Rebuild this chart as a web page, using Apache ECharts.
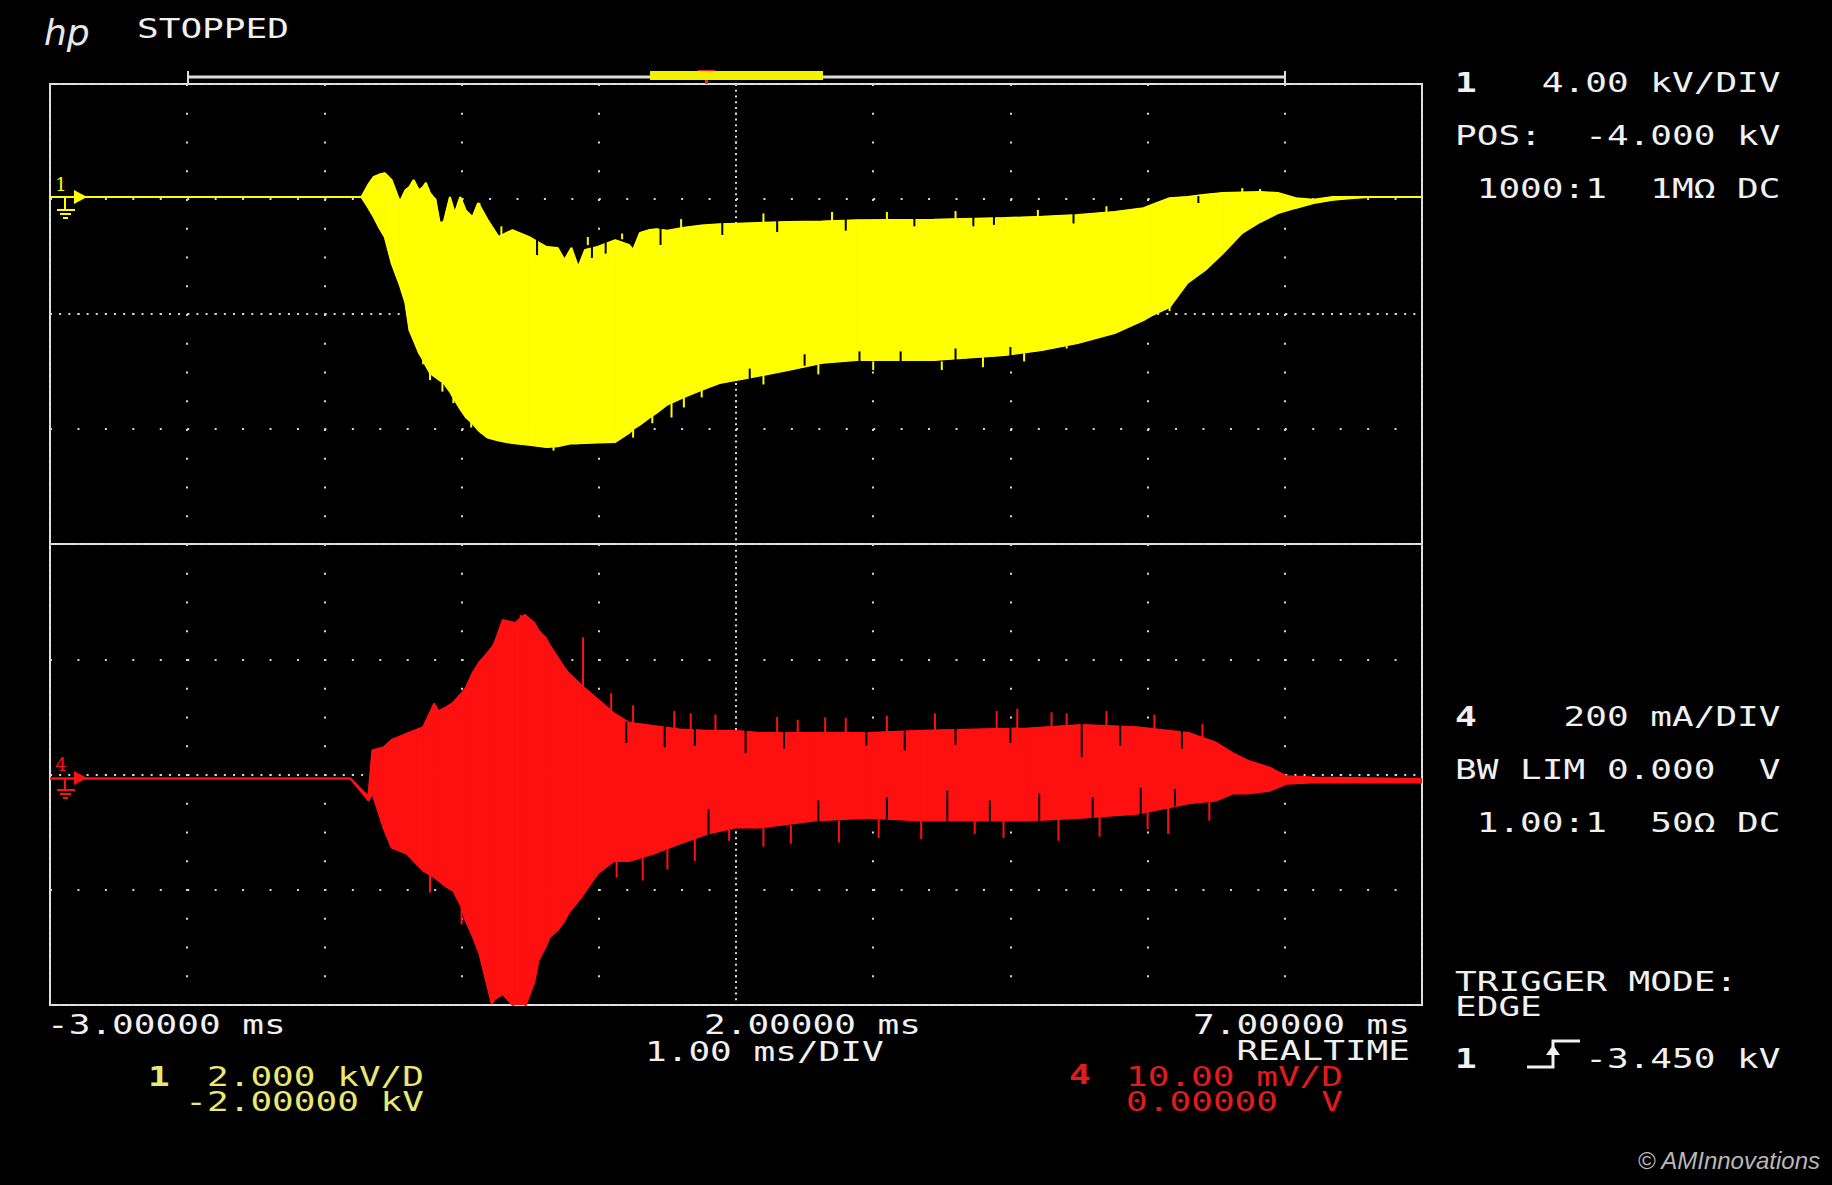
<!DOCTYPE html>
<html><head><meta charset="utf-8">
<script src="https://cdn.jsdelivr.net/npm/echarts@6/dist/echarts.min.js"></script>
<style>html,body{margin:0;padding:0;background:#000;}#c{width:1832px;height:1185px;}</style>
</head><body><div id="c"></div>
<script>
// ---- axes (ms, kV, mA) ----
const timeRange = [-3, 7];      // 1.00 ms/DIV
const ch1Range = [-12, 4];      // 4.00 kV/DIV, POS -4.000 kV
const ch4Range = [-400, 400];   // 200 mA/DIV

// ---- channel 1 (yellow, kV): envelope of the oscillation ----
const ch1Time = [-3.00,-0.78,-0.73,-0.68,-0.64,-0.60,-0.56,-0.51,-0.45,-0.41,-0.38,-0.35,-0.31,-0.28,-0.26,-0.23,-0.19,-0.16,-0.13,-0.085,-0.05,-0.01,0.03,0.08,0.12,0.19,0.27,0.37,0.49,0.62,0.70,0.75,0.80,0.85,0.90,0.99,1.12,1.22,1.25,1.30,1.37,1.42,1.50,1.62,1.75,1.88,2.00,2.12,2.38,2.63,2.88,3.44,3.96,4.23,4.49,4.76,4.97,5.03,5.16,5.29,5.42,5.55,5.69,5.82,5.95,6.08,6.21,6.35,6.48,6.61,7.00];
const ch1Hi = [0.07,0.07,0.07,0.50,0.77,0.85,0.90,0.66,-0.10,0.30,0.42,0.66,0.30,0.42,0.56,0.20,-0.03,-0.83,-0.80,0.07,-0.50,0.07,-0.40,-0.63,-0.14,-0.73,-1.32,-1.08,-1.32,-1.67,-1.70,-2.12,-1.70,-2.37,-1.77,-1.67,-1.43,-1.60,-1.77,-1.18,-1.08,-1.05,-1.10,-1.00,-0.92,-0.88,-0.86,-0.84,-0.80,-0.78,-0.74,-0.72,-0.66,-0.62,-0.56,-0.45,-0.32,-0.21,0.03,0.07,0.15,0.21,0.23,0.24,0.21,0.03,-0.03,0.07,0.07,0.07,0.07];
const ch1Lo = [0.07,0.07,0.07,-0.30,-0.63,-1.00,-1.32,-2.23,-3.00,-3.60,-4.56,-4.90,-5.36,-5.60,-5.80,-6.05,-6.20,-6.30,-6.40,-6.70,-6.99,-7.30,-7.58,-7.80,-8.03,-8.30,-8.40,-8.49,-8.55,-8.63,-8.60,-8.55,-8.50,-8.50,-8.49,-8.47,-8.45,-8.14,-8.00,-7.85,-7.60,-7.44,-7.15,-6.89,-6.64,-6.40,-6.30,-6.19,-5.95,-5.70,-5.60,-5.60,-5.43,-5.25,-5.01,-4.66,-4.21,-4.05,-3.76,-2.92,-2.47,-1.88,-1.18,-0.80,-0.49,-0.31,-0.14,-0.03,0.03,0.07,0.07];
// single spikes beyond the envelope [t, from, to] and dark gaps cutting into it
const ch1Spikes = [[-0.28,-5.5,-5.75],[-0.23,-5.9,-6.3],[-0.14,-6.4,-6.7],[-0.06,-6.85,-7.1],[0.07,-7.7,-7.95],[0.14,-8.0,-8.15],[0.67,-8.5,-8.75],[1.25,-7.9,-8.3],[1.39,-7.5,-7.8],[1.53,-7.1,-7.6],[1.62,-6.8,-7.25],[1.75,-6.6,-6.9],[4.41,-5.0,-5.2],[4.86,-4.2,-4.45],[5.16,-3.6,-3.9],[0.13,-0.5,-0.14],[0.29,-1.3,-0.95],[0.92,-1.6,-1.32],[1.17,-1.4,-1.2],[5.69,0.2,0.38],[5.82,0.2,0.35],
  [1.60,-1.1,-0.7],[2.20,-0.9,-0.5],[2.70,-0.85,-0.45],[3.10,-0.8,-0.45],[3.60,-0.75,-0.42],[4.20,-0.7,-0.38],[4.70,-0.55,-0.25],
  [2.20,-6.1,-6.45],[2.60,-5.75,-6.1],[3.00,-5.65,-5.95],[3.50,-5.65,-5.95],[3.80,-5.5,-5.85],[4.10,-5.35,-5.65]];
const ch1Gaps = [[0.55,-1.3,-1.95],[0.95,-1.5,-2.05],[1.05,-1.5,-1.9],[3.30,-0.6,-0.95],[3.73,-0.6,-0.95],[3.88,-0.6,-0.9],[4.46,-0.5,-0.85],[5.37,0.1,-0.14],[2.50,-5.8,-5.4],[3.20,-5.7,-5.3],[4.00,-5.5,-5.15],
  [1.45,-1.0,-1.6],[1.90,-0.8,-1.25],[2.30,-0.75,-1.15],[2.80,-0.7,-1.1],[2.10,-6.3,-5.9],[2.90,-5.7,-5.3],[3.60,-5.6,-5.2]];

// ---- channel 4 (red, mA): envelope of the oscillation ----
const ch4Time = [-3.00,-0.81,-0.68,-0.65,-0.57,-0.51,-0.40,-0.28,-0.20,-0.17,-0.11,-0.06,0.00,0.03,0.08,0.13,0.16,0.22,0.24,0.30,0.39,0.46,0.53,0.56,0.61,0.64,0.70,0.75,0.78,0.89,0.97,1.00,1.11,1.22,1.40,1.59,1.79,1.99,2.18,2.57,2.96,3.35,3.74,4.13,4.52,4.92,5.30,5.50,5.62,5.73,5.89,6.01,6.20,7.00];
const ch4Hi = [-7,-7,-38,42,47,60,71,82,123,110,117,125,141,150,176,195,203,220,228,268,263,277,263,250,238,225,203,185,176,151,135,129,106,90,84,78,76,76,72,72,72,76,78,80,86,82,72,55,37,24,12,-3,-5,-8];
const ch4Lo = [-7,-7,-45,-33,-92,-127,-137,-167,-178,-184,-195,-202,-230,-254,-280,-311,-340,-398,-390,-381,-405,-405,-360,-323,-300,-283,-270,-254,-240,-207,-179,-170,-150,-150,-137,-120,-103,-92,-92,-80,-75,-80,-80,-80,-75,-68,-50,-45,-33,-33,-28,-16,-14,-14];
const ch4Spikes = [[1.09,110,141],[1.67,78,106],[2.65,72,99],[4.41,85,106],[-0.23,-175,-205],[0.00,-230,-260],[1.13,-150,-179],[1.32,-140,-184],[1.95,-92,-115],[3.04,-75,-110],[3.74,-80,-103],[5.15,-55,-103],[0.885,151,238],[0.43,270,277],
  [1.25,88,120],[1.55,78,110],[1.85,76,104],[2.30,72,100],[2.45,72,95],[2.80,72,98],[3.10,72,102],[3.45,76,106],[3.90,78,110],[4.05,80,114],[4.30,82,108],[4.70,84,110],[5.05,80,104],[5.40,62,88],
  [1.50,-130,-165],[1.70,-112,-150],[2.20,-92,-125],[2.40,-88,-120],[2.75,-80,-118],[3.35,-80,-112],[3.95,-80,-110],[4.35,-78,-115],[4.65,-72,-108],[5.00,-62,-95],[5.45,-47,-80]];
const ch4Gaps = [[1.48,88,47],[2.07,78,37],[3.23,76,42],[4.52,88,30],[3.54,-83,-28],[4.21,-83,-33],[4.95,-71,-23],
  [1.20,92,55],[1.70,80,50],[2.35,74,45],[2.95,74,50],[3.60,80,52],[4.00,82,55],[4.80,85,50],[5.25,76,45],
  [1.80,-106,-60],[2.60,-83,-45],[3.10,-78,-40],[3.85,-83,-45],[4.60,-78,-40],[5.20,-55,-25]];

const YEL = '#ffff00', RED = '#ff1010', WHITE = '#f0f0f0', GRID = '#d6d6d6';
const YTXT = '#e8e872', RTXT = '#e01c1c';

function segRows(t, lo, hi) {
  const rows = [];
  for (let i = 1; i < t.length; i++) rows.push([t[i - 1], lo[i - 1], hi[i - 1], t[i], lo[i], hi[i]]);
  return rows;
}
function bandSeries(t, lo, hi, spikes, gaps, gi, color) {
  const common = { xAxisIndex: gi, yAxisIndex: gi, silent: true, animation: false };
  return [
    Object.assign({}, common, {
      type: 'custom', z: 5, clip: true, data: segRows(t, lo, hi),
      encode: { x: [0, 3], y: [1, 2, 4, 5] },
      renderItem: function (params, api) {
        const a = api.coord([api.value(0), api.value(1)]);
        const b = api.coord([api.value(0), api.value(2)]);
        const c = api.coord([api.value(3), api.value(5)]);
        const d = api.coord([api.value(3), api.value(4)]);
        return { type: 'polygon', shape: { points: [a, b, c, d] }, style: { fill: color, stroke: color, lineWidth: 1 } };
      }
    }),
    Object.assign({}, common, { type: 'line', z: 6, symbol: 'none', data: t.map((x, i) => [x, lo[i]]), lineStyle: { color: color, width: 2 } }),
    Object.assign({}, common, { type: 'line', z: 6, symbol: 'none', data: t.map((x, i) => [x, hi[i]]), lineStyle: { color: color, width: 2 } }),
    Object.assign({}, common, {
      type: 'custom', z: 7, clip: true, data: spikes, encode: { x: 0, y: [1, 2] },
      renderItem: function (params, api) {
        const p = api.coord([api.value(0), api.value(1)]), q = api.coord([api.value(0), api.value(2)]);
        return { type: 'line', shape: { x1: p[0], y1: p[1], x2: q[0], y2: q[1] }, style: { stroke: color, lineWidth: 2 } };
      }
    }),
    Object.assign({}, common, {
      type: 'custom', z: 8, clip: true, data: gaps, encode: { x: 0, y: [1, 2] },
      renderItem: function (params, api) {
        const p = api.coord([api.value(0), api.value(1)]), q = api.coord([api.value(0), api.value(2)]);
        return { type: 'line', shape: { x1: p[0], y1: p[1], x2: q[0], y2: q[1] }, style: { stroke: '#000', lineWidth: 2 } };
      }
    })
  ];
}

function xAx(gi, interval, dash) {
  return { type: 'value', gridIndex: gi, min: timeRange[0], max: timeRange[1], interval: interval,
    position: interval === 1 ? 'bottom' : 'top',
    axisLine: { show: false }, axisTick: { show: false }, axisLabel: { show: false },
    splitLine: { show: true, lineStyle: { color: GRID, width: 2, type: dash } } };
}
function yAx(gi, range, interval, dash, pos) {
  return { type: 'value', gridIndex: gi, min: range[0], max: range[1], interval: interval, position: pos,
    axisLine: { show: false }, axisTick: { show: false }, axisLabel: { show: false },
    splitLine: { show: true, lineStyle: { color: GRID, width: 2, type: dash } } };
}

const MONO = '"DejaVu Sans Mono", monospace';
const SX = 1.387;
function T(x, y, text, fill, align, bold) {
  return { type: 'text', x: x, y: y, scaleX: SX, silent: true, z: 100,
    style: { text: text, fill: fill, font: (bold ? 'bold ' : '') + '26px ' + MONO,
      textAlign: align || 'left', textVerticalAlign: 'middle' } };
}
function L(pts, color, w) {
  return { type: 'polyline', silent: true, z: 100, shape: { points: pts }, style: { stroke: color, lineWidth: w || 2, fill: null } };
}
function P(pts, color) {
  return { type: 'polygon', silent: true, z: 100, shape: { points: pts }, style: { fill: color } };
}
const C = 21.7, CX = 1455;

const graphics = [
  { type: 'text', x: 44, y: 32, silent: true, style: { text: 'hp', fill: '#e8e8e8', font: 'italic 36px "DejaVu Sans"', textVerticalAlign: 'middle' } },
  T(137, 29, 'STOPPED', WHITE),
  // memory bar
  { type: 'rect', silent: true, shape: { x: 188, y: 75.5, width: 1097, height: 3 }, style: { fill: '#dcdcdc' } },
  L([[188, 71], [188, 84]], '#dcdcdc', 2),
  L([[1285, 71], [1285, 84]], '#dcdcdc', 2),
  { type: 'rect', silent: true, z: 101, shape: { x: 650, y: 71, width: 173, height: 9 }, style: { fill: '#f2f200' } },
  P([[697, 70], [716, 70], [706.5, 78]], '#ff2020'),
  L([[706.5, 70], [706.5, 84]], '#ff2020', 3),
  // channel 1 ground marker
  { type: 'text', x: 61, y: 184, silent: true, z: 100, style: { text: '1', fill: YEL, font: '18px "DejaVu Serif"', textAlign: 'center', textVerticalAlign: 'middle' } },
  P([[74, 190], [87, 197], [74, 204]], YEL),
  L([[65, 197], [65, 210]], YEL, 2), L([[57, 210], [75, 210]], YEL, 2), L([[60, 214], [71, 214]], YEL, 2), L([[63, 218], [68, 218]], YEL, 2),
  // channel 4 ground marker
  { type: 'text', x: 61, y: 764, silent: true, z: 100, style: { text: '4', fill: RED, font: '18px "DejaVu Serif"', textAlign: 'center', textVerticalAlign: 'middle' } },
  P([[74, 771], [87, 778], [74, 785]], RED),
  L([[65, 778], [65, 790]], RED, 2), L([[57, 790], [75, 790]], RED, 2), L([[60, 794], [71, 794]], RED, 2), L([[63, 798], [68, 798]], RED, 2),
  // right column
  T(CX, 83, '1', WHITE, 'left', true), T(CX + 4 * C, 83, '4.00 kV/DIV', WHITE),
  T(CX, 136, 'POS:', WHITE), T(CX + 6 * C, 136, '-4.000 kV', WHITE),
  T(CX + C, 189, '1000:1', WHITE), T(CX + 9 * C, 189, '1MΩ DC', WHITE),
  T(CX, 717, '4', WHITE, 'left', true), T(CX + 5 * C, 717, '200 mA/DIV', WHITE),
  T(CX, 770, 'BW LIM 0.000', WHITE), T(CX + 14 * C, 770, 'V', WHITE),
  T(CX + C, 823, '1.00:1', WHITE), T(CX + 9 * C, 823, '50Ω DC', WHITE),
  T(CX, 982, 'TRIGGER MODE:', WHITE),
  T(CX, 1007, 'EDGE', WHITE),
  T(CX, 1059, '1', WHITE, 'left', true),
  L([[1527, 1067], [1553, 1067], [1553, 1041], [1580, 1041]], WHITE, 3),
  P([[1546, 1055], [1560, 1055], [1553, 1045]], WHITE),
  T(CX + 6 * C, 1059, '-3.450 kV', WHITE),
  // bottom
  T(47, 1025, '-3.00000 ms', WHITE),
  T(704, 1025, '2.00000 ms', WHITE),
  T(645, 1052, '1.00 ms/DIV', WHITE),
  T(1410, 1025, '7.00000 ms', WHITE, 'right'),
  T(1410, 1051, 'REALTIME', WHITE, 'right'),
  T(148, 1077, '1', YTXT, 'left', true),
  T(424, 1077, '2.000 kV/D', YTXT, 'right'),
  T(424, 1102, '-2.00000 kV', YTXT, 'right'),
  T(1069, 1075, '4', RTXT, 'left', true),
  T(1343, 1077, '10.00 mV/D', RTXT, 'right'),
  T(1278, 1102, '0.00000', RTXT, 'right'),
  T(1343, 1102, 'V', RTXT, 'right'),
  { type: 'text', x: 1820, y: 1160, silent: true, style: { text: '© AMInnovations', fill: '#b8b8b8', font: 'italic 24px "Liberation Sans"', textAlign: 'right', textVerticalAlign: 'middle' } }
];

const chart = echarts.init(document.getElementById('c'), null, { renderer: 'svg' });
chart.setOption({
  backgroundColor: '#000',
  animation: false,
  grid: [
    { left: 50, top: 84, width: 1372, height: 460, show: true, borderColor: '#e2e2e2', borderWidth: 2, backgroundColor: 'transparent' },
    { left: 50, top: 544, width: 1372, height: 461, show: true, borderColor: '#e2e2e2', borderWidth: 2, backgroundColor: 'transparent' }
  ],
  xAxis: [
    xAx(0, 1, [2, 26.75]), xAx(1, 1, [2, 26.75]),
    xAx(0, 5, [2, 3.75]), xAx(1, 5, [2, 3.75])
  ],
  yAxis: [
    yAx(0, ch1Range, 4, [2, 25.44], 'left'), yAx(1, ch4Range, 200, [2, 25.44], 'left'),
    yAx(0, ch1Range, 8, [2, 7.15], 'right'), yAx(1, ch4Range, 400, [2, 7.15], 'right')
  ],
  series: [].concat(
    bandSeries(ch1Time, ch1Lo, ch1Hi, ch1Spikes, ch1Gaps, 0, YEL),
    bandSeries(ch4Time, ch4Lo, ch4Hi, ch4Spikes, ch4Gaps, 1, RED)
  ),
  graphic: graphics
});
</script></body></html>
